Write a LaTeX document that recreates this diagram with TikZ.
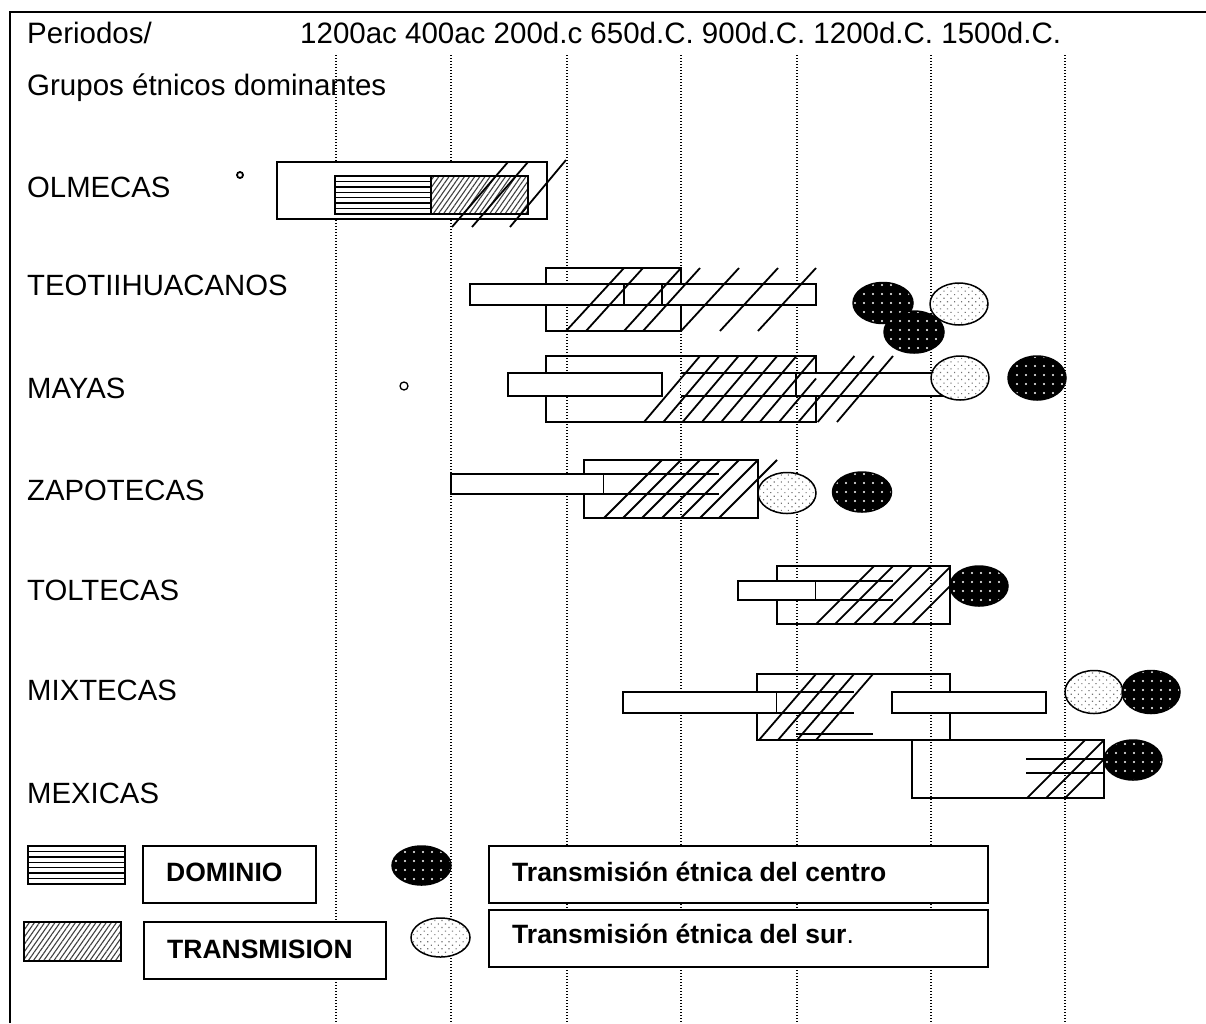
\documentclass[tikz,border=0pt]{standalone}
\usepackage{fontspec}
\setmainfont{Liberation Sans}
\usetikzlibrary{patterns.meta}
\begin{document}
\begin{tikzpicture}[x=1pt,y=-1pt,
  frame/.style={line width=2.5pt},
  box/.style={line width=1.8pt},
  bar/.style={line width=1.8pt, fill=white},
  slash/.style={line width=1.8pt},
  grid/.style={line width=1.1pt, dash pattern=on 1.1pt off 1.9pt},
  rule/.style={line width=1.4pt},
  fine/.style={draw, line width=1.8pt, preaction={fill=white},
    pattern={Lines[angle=55,distance=4.2pt,line width=1.1pt]}, pattern color=black!75},
  darkoval/.style={draw, line width=1.5pt, preaction={fill=black},
    pattern={Dots[radius=1.1pt,distance=9pt]}, pattern color=white},
  lightoval/.style={draw, line width=1.5pt, preaction={fill=white},
    pattern={Dots[radius=0.8pt,distance=5pt,angle=45]}, pattern color=black!55},
  lab/.style={anchor=base west, inner sep=0pt, font=\fontsize{29.3}{35}\selectfont},
  head/.style={anchor=base west, inner sep=0pt, font=\fontsize{29.5}{35}\selectfont},
  legtxt/.style={anchor=base west, inner sep=0pt, font=\fontsize{26.5}{32}\selectfont\bfseries},
]
\useasboundingbox (0,0) rectangle (1206,1023);

% frame
\draw[frame] (10,1023) -- (10,12) -- (1206,12);

% period grid
\foreach \gx in {336,451,567,681,797,931,1065}
  \draw[grid] (\gx,55) -- (\gx,1023);

% headings
\node[head] (periodos) at (27,43) {Periodos/};
\node[head] (fechas) at (300,43) {1200ac 400ac 200d.c 650d.C. 900d.C. 1200d.C. 1500d.C.};
\node[head] (grupos) at (27,95) {Grupos étnicos dominantes};

% group names
\node[lab] (olm) at (27,197) {OLMECAS};
\node[lab] (teo) at (27,295) {TEOTIIHUACANOS};
\node[lab] (may) at (27,398) {MAYAS};
\node[lab] (zap) at (27,500) {ZAPOTECAS};
\node[lab] (tol) at (27,600) {TOLTECAS};
\node[lab] (mix) at (27,700) {MIXTECAS};
\node[lab] (mex) at (27,803) {MEXICAS};

% OLMECAS
\draw[line width=1.8pt] (240,175) circle (3);
\draw[bar] (277,162) rectangle (547,219);
\fill[white] (335,176) rectangle (431,214);
\foreach \k in {1,...,6}
  \draw[rule, black!\ifodd\k 60\else 100\fi] (335,176+5.4*\k) -- (431,176+5.4*\k);
\draw[box] (335,176) rectangle (431,214);
\path[fine] (431,176) rectangle (528,214);
\draw[slash] (452,227) -- (508,162);
\draw[slash] (472,227) -- (528,162);
\draw[slash] (510,227) -- (566,160);

% TEOTIHUACANOS
\draw[box] (546,268) rectangle (681,331);
\draw[bar] (470,284) rectangle (816,305);
\draw[box] (624,284) -- (624,305) (662,284) -- (662,305);
\foreach \b/\t in {566/624,586/643,624/681,643/700,681/739,720/778,758/816}
  \draw[slash] (\b,331) -- (\t,268);
\path[darkoval] (883,303) ellipse (30 and 20.5);
\path[darkoval] (914,332) ellipse (30 and 21);
\path[lightoval] (959,304) ellipse (29 and 21);

% MAYAS
\draw[line width=1.3pt] (404,386) circle (4);
\draw[box] (546,356) rectangle (816,422);
\draw[bar] (508,373) rectangle (662,396);
\fill[white] (681,373) rectangle (796,396);
\draw[box] (681,373) -- (796,373) (681,396) -- (796,396);
\draw[bar] (796,373) rectangle (945,396);
\foreach \b in {644,663.3,682.6,701.9,721.2,740.5,759.8}
  \draw[slash] (\b,422) -- (\b+56,356);
\draw[slash] (779.1,422) -- (816,378.5);
\foreach \b in {798.4,817.7,837}
  \draw[slash] (\b,422) -- (\b+56,356);
\path[lightoval] (960,378) ellipse (29 and 22);
\path[darkoval] (1037,378) ellipse (29 and 22);

% ZAPOTECAS
\draw[box] (584,460) rectangle (758,518);
\draw[bar] (451,474) rectangle (604,494);
\fill[white] (604,474) rectangle (719,494);
\draw[box] (604,474) -- (719,474) (604,494) -- (719,494);
\foreach \b in {604,623,642,662,681,700,719}
  \draw[slash] (\b,518) -- (\b+58,460);
\path[lightoval] (787,493) ellipse (29 and 20.5);
\path[darkoval] (862,492) ellipse (29.5 and 20);

% TOLTECAS
\draw[box] (777,566) rectangle (950,624);
\draw[bar] (738,581) rectangle (816,600);
\fill[white] (816,581) rectangle (893,600);
\draw[box] (816,581) -- (893,581) (816,600) -- (893,600);
\begin{scope}
  \clip (777,566) rectangle (950,624);
  \foreach \b in {816,835,854,873,893,912}
    \draw[slash] (\b,624) -- (\b+58,566);
\end{scope}
\path[darkoval] (979,586) ellipse (29 and 20);

% MIXTECAS
\draw[box] (757,674) rectangle (950,740);
\draw[bar] (623,692) rectangle (777,713);
\fill[white] (777,692) rectangle (854,713);
\draw[line width=2.4pt] (777,692) -- (854,692) (777,713) -- (854,713);
\draw[bar] (892,692) rectangle (1046,713);
\draw[line width=1.4pt] (796,734) -- (873,734);
\foreach \b/\t in {759/816,778/835,797/854,816/873}
  \draw[slash] (\b,740) -- (\t,674);
\path[lightoval] (1094,692) ellipse (29 and 21.5);
\path[darkoval] (1151,692) ellipse (29 and 21.5);

% MEXICAS
\draw[box] (912,740) rectangle (1104,798);
\draw[box] (1026,759) -- (1104,759) (1026,773) -- (1104,773);
\draw[slash] (1027,798) -- (1085,740);
\draw[slash] (1046,798) -- (1104,740);
\draw[slash] (1065,798) -- (1104,759);
\path[darkoval] (1133,760) ellipse (29 and 20);

% legend
\fill[white] (28,846) rectangle (125,884);
\foreach \k in {1,...,6}
  \draw[rule, black!\ifodd\k 60\else 100\fi] (28,846+5.4*\k) -- (125,846+5.4*\k);
\draw[box] (28,846) rectangle (125,884);
\draw[bar] (143,846) rectangle (316,903);
\node[legtxt] (ldom) at (166,881) {DOMINIO};
\path[fine] (24,922) rectangle (121,961);
\draw[bar] (144,922) rectangle (386,979);
\node[legtxt] (ltra) at (167,958) {TRANSMISION};
\path[darkoval] (421.5,865.5) ellipse (29.5 and 19.5);
\path[lightoval] (440.5,937.5) ellipse (29.5 and 19.5);
\draw[bar] (489,846) rectangle (988,903);
\node[legtxt] (lcen) at (512,881) {Transmisión étnica del centro};
\draw[bar] (489,910) rectangle (988,967);
\node[legtxt] (lsur) at (512,943) {Transmisión étnica del sur\textmd{.}};
\end{tikzpicture}
\end{document}
